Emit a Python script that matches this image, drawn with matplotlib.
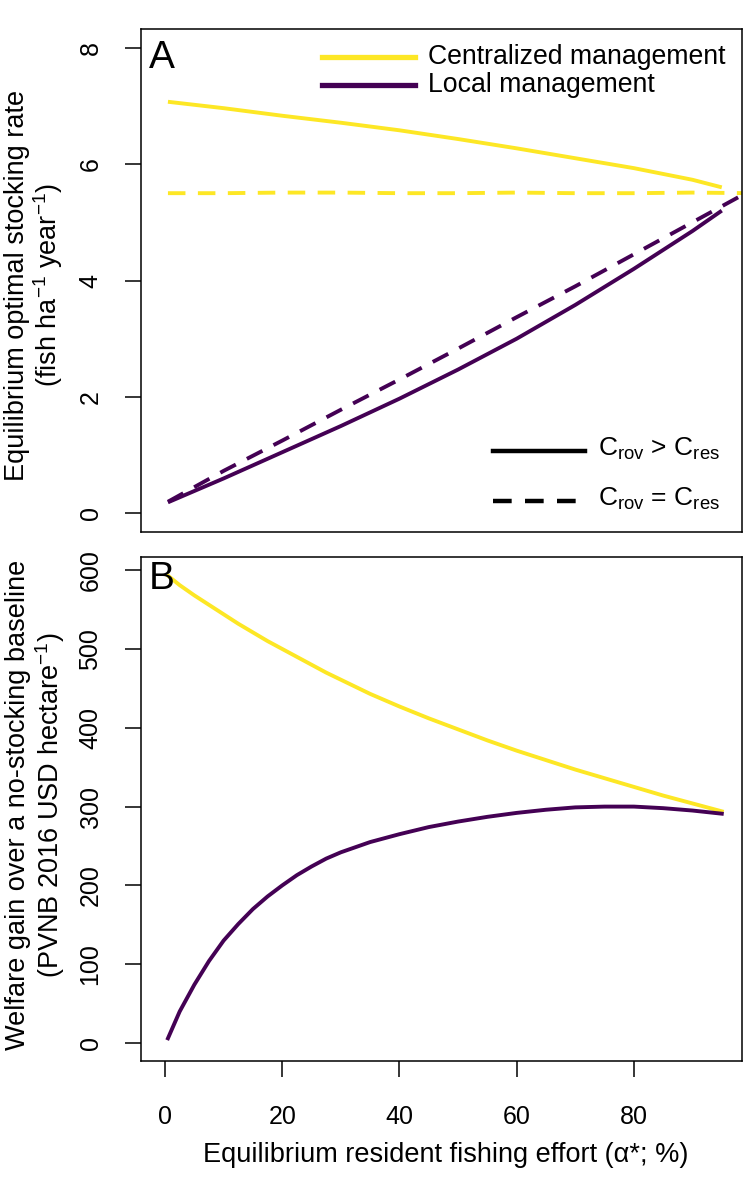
import matplotlib
matplotlib.use("Agg")
import matplotlib.pyplot as plt

plt.rcParams['font.family'] = ['Liberation Sans', 'DejaVu Sans']
plt.rcParams['mathtext.fontset'] = 'custom'
plt.rcParams['mathtext.rm'] = 'Liberation Sans'
plt.rcParams['mathtext.it'] = 'Liberation Sans:italic'

YELLOW = '#FDE725'
PURPLE = '#440154'

# ---------- Panel A data: equilibrium optimal stocking rate ----------
a_x_solid = [0.5, 10, 20, 30, 40, 50, 60, 70, 80, 90, 95]
a_central_solid = [7.07, 6.96, 6.83, 6.71, 6.58, 6.43, 6.27, 6.10, 5.93, 5.73, 5.60]
a_local_solid = [0.19, 0.60, 1.05, 1.50, 1.97, 2.47, 3.00, 3.58, 4.20, 4.85, 5.20]

a_x_dashed = [0.5, 10, 20, 30, 40, 50, 60, 70, 80, 90, 100]
a_central_dashed = [5.50, 5.50, 5.51, 5.51, 5.50, 5.50, 5.51, 5.50, 5.50, 5.51, 5.50]
a_local_dashed = [0.20, 0.73, 1.25, 1.78, 2.30, 2.83, 3.37, 3.90, 4.45, 5.00, 5.55]

# ---------- Panel B data: welfare gain ----------
b_x = [0.5, 2.5, 5, 7.5, 10, 12.5, 15, 17.5, 20, 22.5, 25, 27.5, 30, 35, 40,
       45, 50, 55, 60, 65, 70, 75, 80, 85, 90, 95]
b_central = [593, 581, 568, 556, 544, 532, 521, 510, 500, 490, 480, 470, 461, 443, 427,
             412, 398, 384, 371, 359, 347, 336, 325, 314, 304, 294]
b_local = [6, 40, 74, 104, 130, 151, 170, 186, 200, 213, 224, 234, 242, 255, 265,
           274, 281, 287, 292, 296, 299, 300, 300, 298, 295, 291]

x_ticks = [0, 20, 40, 60, 80]
a_yticks = [0, 2, 4, 6, 8]
b_yticks = [0, 100, 200, 300, 400, 500, 600]

legend_mgmt = ['Centralized management', 'Local management']

W, H = 744, 1200
fig = plt.figure(figsize=(W / 100, H / 100), dpi=100)

L, R = 140.7 / W, 742 / W
axA = fig.add_axes([L, (H - 532) / H, R - L, (532 - 29) / H])
axB = fig.add_axes([L, (H - 1061) / H, R - L, (1061 - 557) / H])

lw = 2.8
dash = (4.5, 3.2)

axA.plot(a_x_solid, a_central_solid, color=YELLOW, lw=lw, solid_capstyle='butt')
axA.plot(a_x_dashed, a_central_dashed, color=YELLOW, lw=lw, dashes=dash)
axA.plot(a_x_solid, a_local_solid, color=PURPLE, lw=lw, solid_capstyle='butt')
axA.plot(a_x_dashed, a_local_dashed, color=PURPLE, lw=lw, dashes=dash)

axB.plot(b_x, b_central, color=YELLOW, lw=lw)
axB.plot(b_x, b_local, color=PURPLE, lw=lw)

xlim = (-4.15, 98.45)
for ax in (axA, axB):
    ax.set_xlim(*xlim)
    for s in ax.spines.values():
        s.set_linewidth(1.1)
    ax.tick_params(axis='both', direction='out', length=11.5, width=1.1,
                   labelsize=18, pad=16)

axA.set_ylim(-0.32, 8.32)
axA.set_yticks(a_yticks)
axA.set_yticklabels([str(v) for v in a_yticks], rotation=90, va='center')
axA.set_xticks(x_ticks)
axA.tick_params(axis='x', bottom=False, labelbottom=False)

axB.set_ylim(-22.8, 616.7)
axB.set_yticks(b_yticks)
axB.set_yticklabels([str(v) for v in b_yticks], rotation=90, va='center')
axB.set_xticks(x_ticks)
axB.set_xticklabels([str(v) for v in x_ticks])
axB.tick_params(axis='x', pad=20)

# panel letters
axA.text(0.013, 0.978, 'A', transform=axA.transAxes, fontsize=28,
         ha='left', va='top')
axB.text(0.013, 0.992, 'B', transform=axB.transAxes, fontsize=28,
         ha='left', va='top')


def fx(px):
    return px / W


def fy(py):
    return 1 - py / H


# management legend (panel A, top)
leg_cols = [YELLOW, PURPLE]
leg_y = [57, 85]
for name, col, yy in zip(legend_mgmt, leg_cols, leg_y):
    fig.add_artist(plt.Line2D([fx(322), fx(415)], [fy(yy), fy(yy)], color=col,
                              lw=3.8, transform=fig.transFigure))
    fig.text(fx(428), fy(yy), name, fontsize=19.2, ha='left', va='center')

# line type legend (panel A, bottom right)
fig.add_artist(plt.Line2D([fx(493), fx(585)], [fy(451), fy(451)], color='black',
                          lw=3.2, transform=fig.transFigure))
fig.add_artist(plt.Line2D([fx(493), fx(585)], [fy(501), fy(501)], color='black',
                          lw=3.2, dashes=(4.2, 3.0), transform=fig.transFigure))
fig.text(fx(598), fy(449), r'C$_{\mathrm{rov}}$ > C$_{\mathrm{res}}$', fontsize=19,
         ha='left', va='center')
fig.text(fx(598), fy(499), r'C$_{\mathrm{rov}}$ = C$_{\mathrm{res}}$', fontsize=19,
         ha='left', va='center')

# axis labels
fig.text(fx(17), fy(285), 'Equilibrium optimal stocking rate', rotation=90,
         fontsize=19.5, ha='center', va='center')
fig.text(fx(48), fy(285), r'(fish ha$^{-1}$ year$^{-1}$)', rotation=90,
         fontsize=19.5, ha='center', va='center')
fig.text(fx(18), fy(805), 'Welfare gain over a no-stocking baseline', rotation=90,
         fontsize=19.5, ha='center', va='center')
fig.text(fx(50), fy(805), r'(PVNB 2016 USD hectare$^{-1}$)', rotation=90,
         fontsize=19.5, ha='center', va='center')
fig.text(fx(446), fy(1155), 'Equilibrium resident fishing effort (\u03b1*; %)',
         fontsize=19.5, ha='center', va='center')

fig.savefig('out.png', dpi=100)
